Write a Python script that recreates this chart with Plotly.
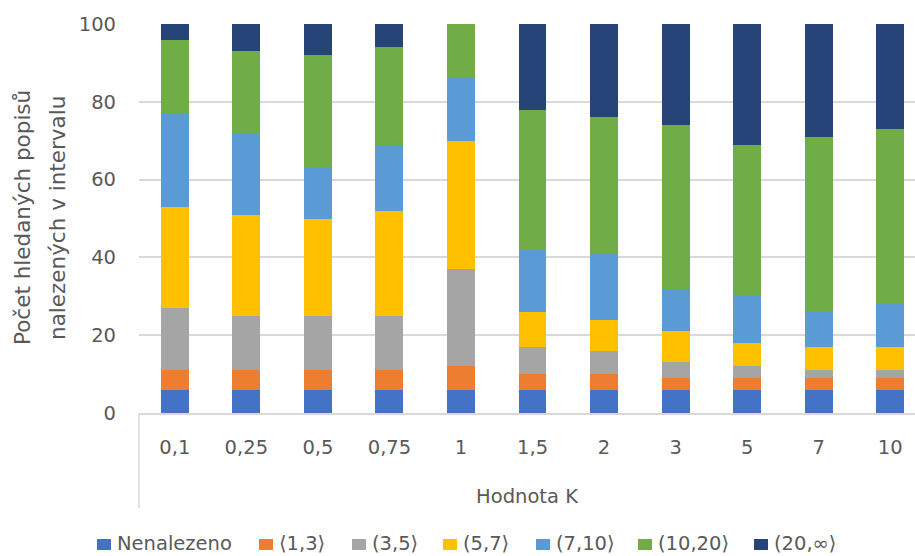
import plotly.graph_objects as go

# Values of K (category axis)
k_values = ["0,1", "0,25", "0,5", "0,75", "1", "1,5", "2", "3", "5", "7", "10"]

# Number of searched descriptions found in each interval (stacked, sums to 100)
nenalezeno = [6, 6, 6, 6, 6, 6, 6, 6, 6, 6, 6]
int_1_3 = [5, 5, 5, 5, 6, 4, 4, 3, 3, 3, 3]
int_3_5 = [16, 14, 14, 14, 25, 7, 6, 4, 3, 2, 2]
int_5_7 = [26, 26, 25, 27, 33, 9, 8, 8, 6, 6, 6]
int_7_10 = [24, 21, 13, 17, 16, 16, 17, 11, 12, 9, 11]
int_10_20 = [19, 21, 29, 25, 14, 36, 35, 42, 39, 45, 45]
int_20_inf = [4, 7, 8, 6, 0, 22, 24, 26, 31, 29, 27]

series_names = ["Nenalezeno", "⟨1,3⟩", "(3,5⟩", "(5,7⟩", "(7,10⟩", "(10,20⟩", "(20,∞⟩"]
series_values = [nenalezeno, int_1_3, int_3_5, int_5_7, int_7_10, int_10_20, int_20_inf]
series_colors = ["#4472C4", "#ED7D31", "#A5A5A5", "#FFC000", "#5B9BD5", "#70AD47", "#264478"]

W, H = 915, 556
ML, MR, MT, MB = 139, 0, 24, 143
PW, PH = W - ML - MR, H - MT - MB
FONT = "DejaVu Sans"
TXT = "#595959"
GRID = "#D9D9D9"


def px_x(px):
    return (px - ML) / PW


def px_y(py):
    return (H - MB - py) / PH


fig = go.Figure()
for name, vals, col in zip(series_names, series_values, series_colors):
    fig.add_trace(go.Bar(
        x=k_values, y=vals, name=name, marker_color=col,
        marker_line_width=0, width=0.39, showlegend=False,
    ))

# Legend drawn as colour swatches with text beside them
legend_swatch_left = [97, 259, 352, 443, 536, 638, 754]
legend_text_left = [115, 277, 370, 461, 554, 656, 772]
shapes = []
annotations = []
for name, col, sx, tx in zip(series_names, series_colors, legend_swatch_left, legend_text_left):
    shapes.append(dict(type="rect", xref="paper", yref="paper",
                       x0=px_x(sx), x1=px_x(sx + 14), y0=px_y(550), y1=px_y(539),
                       fillcolor=col, line_width=0))
    annotations.append(dict(text=name, xref="paper", yref="paper",
                            x=px_x(tx), y=px_y(543), xanchor="left", yanchor="middle",
                            showarrow=False, font=dict(family=FONT, size=19.5, color=TXT)))

# Left border of the category label area
shapes.append(dict(type="line", xref="paper", yref="paper",
                   x0=0, x1=0, y0=0, y1=px_y(508), line=dict(color=GRID, width=1.5)))

# Two-line y axis title
for line, cx in [("Počet hledaných popisů", 22), ("nalezených v intervalu", 57)]:
    annotations.append(dict(text=line, xref="paper", yref="paper",
                            x=px_x(cx), y=px_y(218), xanchor="center", yanchor="middle",
                            textangle=-90, showarrow=False,
                            font=dict(family=FONT, size=21.5, color=TXT)))

fig.update_layout(
    width=W, height=H,
    margin=dict(l=ML, r=MR, t=MT, b=MB, pad=0),
    barmode="stack",
    plot_bgcolor="white", paper_bgcolor="white",
    font=dict(family=FONT, size=19, color=TXT),
    shapes=shapes, annotations=annotations,
    xaxis=dict(
        type="category", range=[-0.5, -0.5 + PW / 71.55],
        showgrid=False, showline=True, linecolor=GRID, linewidth=1.5,
        ticks="", ticklabelstandoff=16,
        tickfont=dict(family=FONT, size=19.5, color=TXT),
        title=dict(text="Hodnota K", standoff=31,
                   font=dict(family=FONT, size=19.5, color=TXT)),
    ),
    yaxis=dict(
        range=[0, 100], tickvals=[0, 20, 40, 60, 80, 100],
        showgrid=True, gridcolor=GRID, gridwidth=1.5,
        zeroline=False, showline=False, ticks="", ticklabelstandoff=22,
        tickfont=dict(family=FONT, size=19.5, color=TXT),
    ),
)

fig.write_html("out.html")
